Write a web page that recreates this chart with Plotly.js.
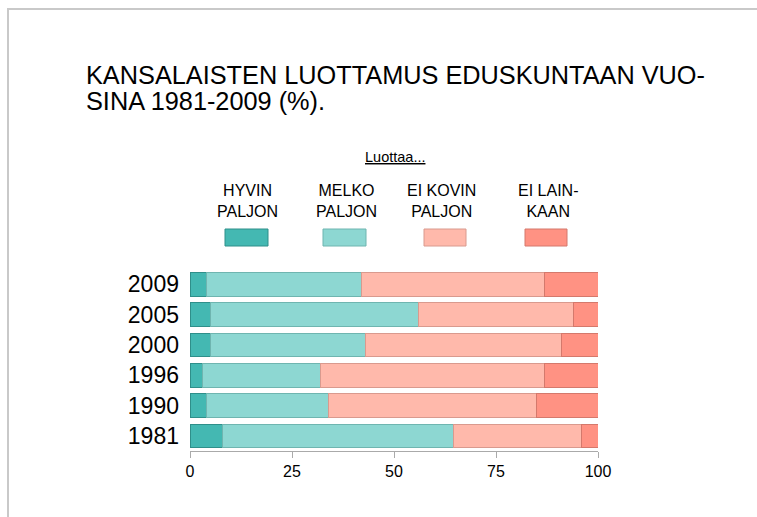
<!DOCTYPE html>
<html>
<head>
<meta charset="utf-8">
<script src="https://cdn.plot.ly/plotly-3.0.1.min.js"></script>
<style>
  html, body { margin: 0; padding: 0; background: #fff; }
  #frame { position: absolute; left: 7px; top: 8px; width: 760px; height: 520px;
           border-left: 2px solid #c9c9c9; border-top: 2px solid #c9c9c9; }
  #chart { position: absolute; left: 0; top: 0; width: 757px; height: 517px; }
</style>
</head>
<body>
<div id="frame"></div>
<div id="chart"></div>
<script>
// ---- data ----
const years = ['1981', '1990', '1996', '2000', '2005', '2009'];
const seriesNames = ['HYVIN<br>PALJON', 'MELKO<br>PALJON', 'EI KOVIN<br>PALJON', 'EI LAIN-<br>KAAN'];
// printed values (right-hand columns)
const hyvinPaljon   = [8, 4, 3, 5, 5, 4];
const melkoPaljon   = [56, 30, 29, 38, 51, 38];
const eiKovinPaljon = [31, 51, 55, 48, 38, 45];
const eiLainkaan    = [4, 15, 13, 9, 6, 13];
// bar lengths as drawn (1981 bar reaches 100 in the picture)
const barHyvin   = [8, 4, 3, 5, 5, 4];
const barMelko   = [56.5, 30, 29, 38, 51, 38];
const barEiKovin = [31.5, 51, 55, 48, 38, 45];
const barEiLain  = [4, 15, 13, 9, 6, 13];
const xTicks = [0, 25, 50, 75, 100];
const titleLines = ['KANSALAISTEN LUOTTAMUS EDUSKUNTAAN VUO-', 'SINA 1981-2009 (%).'];
const legendHeader = 'Luottaa...';

// ---- style ----
const colors = ['#44b8b2', '#8dd7d2', '#ffb9ab', '#ff9283'];
const lineColors = ['#2f8f8a', '#6fb5b0', '#d99a8e', '#d4796c'];
const W = 757, H = 517;
const M = {l: 190, r: 159, t: 269, b: 66};
const PW = W - M.l - M.r, PH = H - M.t - M.b;
const px = x => (x - M.l) / PW;
const py = y => (H - M.b - y) / PH;
const FONT = 'Liberation Sans, Arial, sans-serif';
const INK = '#000';

const bars = [barHyvin, barMelko, barEiKovin, barEiLain];
const printed = [hyvinPaljon, melkoPaljon, eiKovinPaljon, eiLainkaan];

const traces = bars.map((vals, i) => ({
  type: 'bar', orientation: 'h', x: vals, y: years,
  name: seriesNames[i],
  marker: {color: colors[i], line: {color: lineColors[i], width: 1}},
  hoverinfo: 'x+y'
}));

const annotations = [];
// title
const titleY = [75, 101];
titleLines.forEach((t, k) => annotations.push({
  xref: 'paper', yref: 'paper', x: px(84), y: py(titleY[k]),
  xanchor: 'left', yanchor: 'middle', showarrow: false, text: t,
  font: {family: FONT, size: 25.3, color: INK}
}));
// legend header
annotations.push({
  xref: 'paper', yref: 'paper', x: px(395), y: py(157), xanchor: 'center', yanchor: 'middle',
  showarrow: false, text: legendHeader,
  font: {family: FONT, size: 14.5, color: INK, lineposition: 'under'}
});
// legend labels and boxes
const legX = [247, 346, 441, 548];
const boxX = [[225, 268], [323, 366], [424, 466], [525, 567]];
const shapes = [];
seriesNames.forEach((n, i) => {
  annotations.push({
    xref: 'paper', yref: 'paper', x: px(legX[i]), y: py(201), xanchor: 'center', yanchor: 'middle',
    showarrow: false, text: n, align: 'center',
    font: {family: FONT, size: 16, color: INK}
  });
  shapes.push({
    type: 'rect', xref: 'paper', yref: 'paper',
    x0: px(boxX[i][0]), x1: px(boxX[i][1]), y0: py(246), y1: py(229),
    fillcolor: colors[i], line: {color: lineColors[i], width: 1}
  });
});
// value columns
const colX = [628, 659, 689, 720];
years.forEach((yr, r) => {
  printed.forEach((arr, c) => {
    annotations.push({
      xref: 'paper', yref: 'y', x: px(colX[c]), y: yr, xanchor: 'center', yanchor: 'middle',
      showarrow: false, text: String(arr[r]),
      font: {family: FONT, size: 16, color: INK}
    });
  });
});

const layout = {
  width: W, height: H,
  margin: M,
  paper_bgcolor: 'rgba(0,0,0,0)', plot_bgcolor: 'rgba(0,0,0,0)',
  barmode: 'stack', bargap: 0.22, showlegend: false,
  font: {family: FONT, color: INK},
  xaxis: {
    range: [0, 100], tickvals: xTicks, ticktext: xTicks.map(String),
    ticks: 'outside', ticklen: 6, tickcolor: '#aaa', tickwidth: 1,
    showline: true, linecolor: '#aaa', linewidth: 1,
    showgrid: false, zeroline: false, fixedrange: true,
    ticklabelstandoff: 0,
    tickfont: {family: FONT, size: 16, color: INK}
  },
  yaxis: {
    type: 'category', categoryorder: 'array', categoryarray: years,
    range: [-0.5, 5.5], ticks: '', showline: false, showgrid: false, zeroline: false,
    ticklabelstandoff: 10, fixedrange: true,
    tickfont: {family: FONT, size: 23, color: INK}
  },
  annotations: annotations,
  shapes: shapes
};

Plotly.newPlot('chart', traces, layout, {displayModeBar: false, staticPlot: true});
</script>
</body>
</html>
